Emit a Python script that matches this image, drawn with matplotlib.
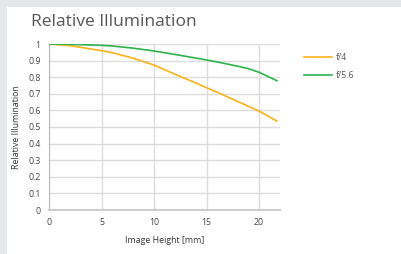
import matplotlib
matplotlib.use("Agg")
import matplotlib.pyplot as plt
from matplotlib.patches import Rectangle

plt.rcParams['font.family'] = ['Open Sans', 'DejaVu Sans']

x_f4 = [0, 2, 4, 5, 6, 8, 10, 12, 14, 15, 16, 18, 20, 21.7]
y_f4 = [1.0, 0.99, 0.97, 0.96, 0.948, 0.915, 0.873, 0.818, 0.765, 0.737, 0.71, 0.653, 0.596, 0.536]
x_f56 = [0, 2, 4, 5, 6, 8, 10, 12, 14, 15, 16, 18, 19, 20, 21, 21.7]
y_f56 = [1.0, 0.998, 0.994, 0.992, 0.988, 0.975, 0.958, 0.937, 0.915, 0.904, 0.892, 0.866, 0.851, 0.83, 0.80, 0.779]
xticks = [0, 5, 10, 15, 20]
yticks = [0, 0.1, 0.2, 0.3, 0.4, 0.5, 0.6, 0.7, 0.8, 0.9, 1]
ytick_labels = ['0', '0.1', '0.2', '0.3', '0.4', '0.5', '0.6', '0.7', '0.8', '0.9', '1']

W, H = 401, 254
fig = plt.figure(figsize=(W/100, H/100), dpi=100, facecolor='#e6e7e8')
bg = Rectangle((7/W, 0), 1, (H-7)/H, transform=fig.transFigure,
               facecolor='white', edgecolor='none', zorder=-10)
fig.patches.append(bg)

ax = fig.add_axes([49/W, (H-210)/H, (280-49)/W, (210-44)/H])
ax.set_zorder(5)
ax.set_facecolor('none')
ax.plot(x_f4, y_f4, color='#fbb21c', lw=1.2, label='f/4', zorder=3)
ax.plot(x_f56, y_f56, color='#2fb24b', lw=1.2, label='f/5.6', zorder=3)
ax.set_xlim(0, 22)
ax.set_ylim(0, 1)
ax.set_xticks(xticks)
ax.set_yticks(yticks)
ax.set_yticklabels(ytick_labels)
ax.grid(True, color='#dcdcdc', lw=1.0)
ax.set_axisbelow(True)
for s in ['top', 'right']:
    ax.spines[s].set_visible(False)
ax.spines['left'].set_color('#bbbbbb')
ax.spines['bottom'].set_color('#cccccc')
ax.spines['bottom'].set_linewidth(1.5)
ax.tick_params(length=0, labelsize=6.3, colors='#444444', pad=6)
ax.set_xlabel('Image Height [mm]', fontsize=6.3, color='#333333', labelpad=6)
ax.set_ylabel('Relative Illumination', fontsize=6.3, color='#333333', labelpad=5)

fig.text(31/W, 1 - 22/H, 'Relative Illumination', fontsize=12.5, color='#555555',
         va='center', ha='left', zorder=6)

ax.legend(loc='upper left', bbox_to_anchor=(296/W, 1 - 45/H), bbox_transform=fig.transFigure,
          frameon=False, fontsize=6.3, labelcolor='#555555', handlelength=3.2, handletextpad=0.4,
          labelspacing=1.0)

fig.savefig('out.png', dpi=100, facecolor=fig.get_facecolor())
